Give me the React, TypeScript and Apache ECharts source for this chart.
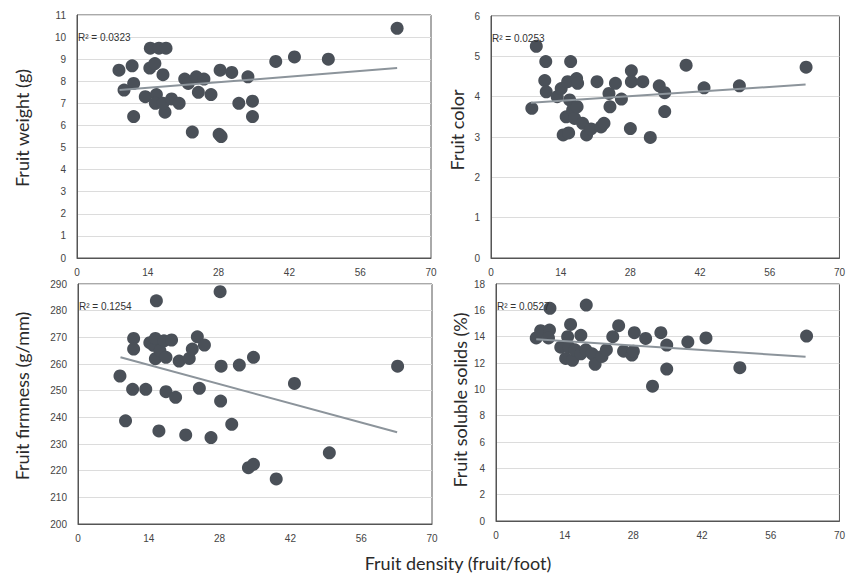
import React, { useEffect, useRef } from "react";
import * as echarts from "echarts";

const xTicks = { min: 0, max: 70, interval: 14 };

const weightPoints: number[][] = [
  [8.3, 8.5], [9.3, 7.6], [10.9, 8.7], [11.2, 7.9], [11.2, 6.4], [13.5, 7.3], [14.5, 9.5], [14.4, 8.6],
  [15.4, 8.8], [16.2, 9.5], [17.6, 9.5], [15.7, 7.4], [15.5, 7.0], [17.0, 8.3], [17.4, 6.6], [17.0, 7.0],
  [18.7, 7.2], [20.2, 7.0], [21.3, 8.1], [22.0, 7.9], [22.8, 5.7], [23.6, 8.2], [24.0, 7.5], [25.1, 8.1],
  [26.5, 7.4], [28.3, 8.5], [28.1, 5.6], [28.5, 5.5], [30.6, 8.4], [32.0, 7.0], [33.8, 8.2], [34.7, 7.1],
  [34.7, 6.4], [39.3, 8.9], [43.0, 9.1], [49.7, 9.0], [63.3, 10.4],
];
const weightTrend: number[][] = [[8.4, 7.6], [63.3, 8.6]];

const colorPoints: number[][] = [
  [9.1, 5.25], [8.2, 3.71], [11.0, 4.87], [10.8, 4.4], [11.1, 4.12], [13.3, 4.0], [14.1, 4.2], [14.5, 3.05],
  [15.6, 3.1], [15.1, 3.5], [15.4, 4.37], [16.0, 4.87], [15.8, 3.92], [16.4, 3.67], [16.8, 3.46], [17.2, 4.45],
  [17.3, 3.75], [17.4, 4.33], [18.4, 3.34], [19.2, 3.05], [20.1, 3.2], [21.3, 4.37], [22.1, 3.25], [22.7, 3.34],
  [23.7, 4.08], [23.9, 3.75], [25.0, 4.33], [26.2, 3.94], [28.2, 4.64], [28.2, 4.37], [28.0, 3.21], [30.5, 4.37],
  [32.0, 2.99], [33.8, 4.27], [34.9, 4.1], [34.9, 3.63], [39.2, 4.78], [42.8, 4.22], [49.9, 4.27], [63.3, 4.73],
];
const colorTrend: number[][] = [[8.0, 3.85], [63.2, 4.3]];

const firmnessPoints: number[][] = [
  [8.3, 255.5], [9.4, 238.7], [11.0, 269.6], [11.0, 265.6], [10.8, 250.5], [13.4, 250.5], [14.2, 268], [14.9, 267],
  [15.3, 269.6], [15.5, 283.7], [15.3, 262], [16.0, 234.9], [16.2, 265], [17.0, 268.7], [17.4, 262.5], [17.4, 249.6],
  [18.5, 269], [19.3, 247.5], [20.0, 261.1], [21.3, 233.4], [22.0, 262.1], [22.6, 265.6], [23.6, 270.2], [24.0, 250.9],
  [25.0, 267.1], [26.3, 232.4], [28.1, 287.1], [28.3, 259.2], [28.2, 246.1], [30.4, 237.4], [31.9, 259.6], [33.7, 221.1],
  [34.7, 222.4], [34.7, 262.5], [39.2, 216.9], [42.8, 252.7], [49.7, 226.7], [63.2, 259.2],
];
const firmnessTrend: number[][] = [[8.4, 262.5], [63.1, 234.4]];

const solidsPoints: number[][] = [
  [8.2, 13.9], [9.1, 14.45], [11.0, 16.15], [10.9, 14.5], [10.7, 13.9], [13.2, 13.2], [14.2, 12.35], [14.6, 14.0],
  [15.2, 14.93], [14.9, 13.2], [15.6, 12.2], [16.1, 13.0], [17.3, 14.1], [17.3, 12.7], [18.4, 16.4], [18.3, 13.0],
  [19.6, 12.7], [20.2, 11.9], [21.6, 12.5], [22.5, 13.0], [23.8, 14.0], [25.0, 14.83], [26.0, 12.9], [27.7, 12.6],
  [28.2, 14.3], [28.0, 12.9], [30.5, 13.87], [31.9, 10.24], [33.6, 14.3], [34.8, 13.36], [34.8, 11.54], [39.1, 13.6],
  [42.8, 13.9], [49.7, 11.64], [63.3, 14.05],
];
const solidsTrend: number[][] = [[8.2, 13.8], [63.1, 12.47]];

const yTitles = ["Fruit weight (g)", "Fruit color", "Fruit firmness (g/mm)", "Fruit soluble solids (%)"];
const rSquared = ["R² = 0.0323", "R² = 0.0253", "R² = 0.1254", "R² = 0.0527"];
const xTitle = "Fruit density (fruit/foot)";
const yRanges = [
  { min: 0, max: 11, interval: 1 },
  { min: 0, max: 6, interval: 1 },
  { min: 200, max: 290, interval: 10 },
  { min: 0, max: 18, interval: 2 },
];

const grids = [
  { left: 77, top: 15, width: 354, height: 243 },
  { left: 491, top: 16, width: 352, height: 242 },
  { left: 78, top: 284, width: 354, height: 240 },
  { left: 496, top: 284, width: 347, height: 237 },
];
const titlePos = [
  [22, 128],
  [457, 130],
  [22, 396],
  [460, 400],
];

const DOT = "#4a5058";
const TREND = "#8c949b";
const LABEL_FONT = "'Liberation Sans', Arial, sans-serif";
const TITLE_FONT = "Lato, 'Noto Sans', sans-serif";

export default function App() {
  const ref = useRef<HTMLDivElement>(null);
  useEffect(() => {
    if (!ref.current) return;
    const chart = echarts.init(ref.current, undefined, { renderer: "svg" });
    const pointsSets = [weightPoints, colorPoints, firmnessPoints, solidsPoints];
    const trends = [weightTrend, colorTrend, firmnessTrend, solidsTrend];

    const series: any[] = [];
    pointsSets.forEach((pts, i) => {
      series.push({
        type: "scatter",
        xAxisIndex: i,
        yAxisIndex: i,
        data: pts,
        symbolSize: 13,
        itemStyle: { color: DOT, opacity: 1 },
        z: 2,
      });
      series.push({
        type: "line",
        xAxisIndex: i,
        yAxisIndex: i,
        data: trends[i],
        symbol: "none",
        lineStyle: { color: TREND, width: 2 },
        z: 3,
      });
    });

    const graphic: any[] = [];
    yTitles.forEach((t, i) => {
      graphic.push({
        type: "text",
        x: titlePos[i][0],
        y: titlePos[i][1],
        rotation: Math.PI / 2,
        style: {
          text: t,
          font: `18px ${TITLE_FONT}`,
          fill: "#2a2a2a",
          align: "center",
          verticalAlign: "middle",
        },
      });
      graphic.push({
        type: "text",
        x: grids[i].left + 1,
        y: grids[i].top + 22,
        style: {
          text: rSquared[i],
          font: `10px ${LABEL_FONT}`,
          fill: "#333",
          align: "left",
          verticalAlign: "middle",
        },
        z: 10,
      });
    });
    graphic.push({
      type: "text",
      x: 458,
      y: 563,
      style: {
        text: xTitle,
        font: `18px ${TITLE_FONT}`,
        fill: "#2a2a2a",
        align: "center",
        verticalAlign: "middle",
      },
    });

    chart.setOption({
      animation: false,
      backgroundColor: "#fff",
      grid: grids.map((g) => ({ ...g, show: true, borderColor: "#555", borderWidth: 1, backgroundColor: "transparent" })),
      xAxis: grids.map((_, i) => ({
        type: "value",
        gridIndex: i,
        min: xTicks.min,
        max: xTicks.max,
        interval: xTicks.interval,
        axisLine: { show: true, lineStyle: { color: "#555" } },
        axisTick: { show: false },
        splitLine: { show: false },
        axisLabel: { fontSize: 10, color: "#444", fontFamily: LABEL_FONT, margin: 9 },
      })),
      yAxis: grids.map((_, i) => ({
        type: "value",
        gridIndex: i,
        min: yRanges[i].min,
        max: yRanges[i].max,
        interval: yRanges[i].interval,
        axisLine: { show: true, lineStyle: { color: "#555" } },
        axisTick: { show: false },
        splitLine: { show: true, lineStyle: { color: "#dcdcdc", width: 1 } },
        axisLabel: { fontSize: 10, color: "#444", fontFamily: LABEL_FONT, margin: 11 },
      })),
      series,
      graphic,
    });
    return () => chart.dispose();
  }, []);
  return <div ref={ref} style={{ position: "fixed", left: 0, top: 0, width: 848, height: 575 }} />;
}
